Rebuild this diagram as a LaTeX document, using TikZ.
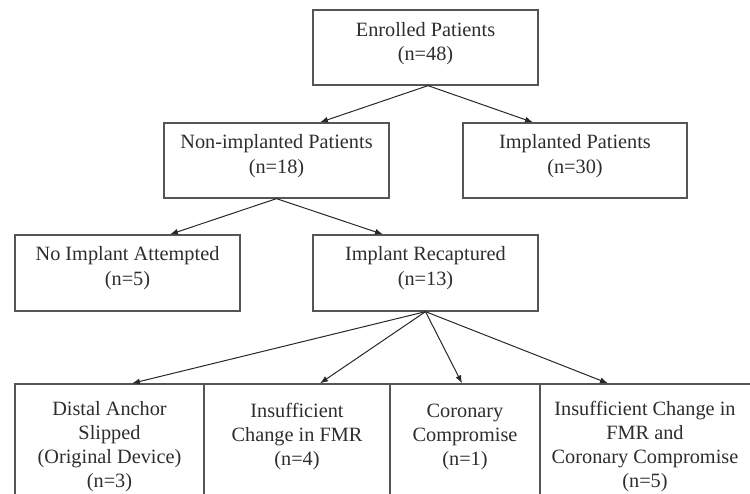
\documentclass[tikz,border=0pt]{standalone}
\usepackage{fontspec}
\setmainfont{Liberation Serif}
\usetikzlibrary{arrows.meta}
\definecolor{boxline}{RGB}{85,85,85}
\definecolor{txt}{RGB}{45,45,45}
\definecolor{arr}{RGB}{40,40,40}
\tikzset{
  x=1pt, y=-1pt,
  box/.style={draw=boxline, line width=1.3pt, rectangle, inner sep=0pt},
  txtnode/.style={inner sep=0pt, align=center, text=txt, font=\fontsize{20.3}{24.6}\selectfont},
  btxt/.style={txtnode, font=\fontsize{20.3}{24}\selectfont},
  conn/.style={draw=arr, line width=1pt, -{Latex[length=8pt,width=6pt]}}
}
\begin{document}
\begin{tikzpicture}
\useasboundingbox (0,0) rectangle (750,494);
\clip (0,0) rectangle (750,494);
% boxes
\node[box, minimum width=225pt, minimum height=75pt] (enr) at (425.5,47.5) {};
\node[box, minimum width=225pt, minimum height=75pt] (non) at (276.5,160.5) {};
\node[box, minimum width=224pt, minimum height=75pt] (imp) at (575,160.5) {};
\node[box, minimum width=225pt, minimum height=76pt] (noi) at (127.5,273) {};
\node[box, minimum width=225pt, minimum height=76pt] (rec) at (425.5,273) {};
\node[box, minimum width=189pt, minimum height=130pt] (b1) at (109.5,449) {};
\node[box, minimum width=186pt, minimum height=130pt] (b2) at (297,449) {};
\node[box, minimum width=150pt, minimum height=130pt] (b3) at (465,449) {};
\node[box, minimum width=220pt, minimum height=130pt] (b4) at (650,449) {};
% texts
\node[txtnode] (tenr) at (425.5,43.5) {Enrolled Patients\\(n=48)};
\node[txtnode] (tnon) at (276.5,156) {Non-implanted Patients\\(n=18)};
\node[txtnode] (timp) at (575,156) {Implanted Patients\\(n=30)};
\node[txtnode] (tnoi) at (127.5,268) {No Implant Attempted\\(n=5)};
\node[txtnode] (trec) at (425.5,268) {Implant Recaptured\\(n=13)};
\node[btxt] (tb1) at (109.5,447) {Distal Anchor\\Slipped\\(Original Device)\\(n=3)};
\node[btxt] (tb2) at (297,436.5) {Insufficient\\Change in FMR\\(n=4)};
\node[btxt] (tb3) at (465,436.5) {Coronary\\Compromise\\(n=1)};
\node[btxt] (tb4) at (645,447) {Insufficient Change in\\FMR and\\Coronary Compromise\\(n=5)};
% connectors
\draw[conn] ([xshift=2.5pt]enr.south) -- ([xshift=43.5pt]non.north);
\draw[conn] ([xshift=2.5pt]enr.south) -- ([xshift=-42pt]imp.north);
\draw[conn] (non.south) -- ([xshift=42.5pt]noi.north);
\draw[conn] (non.south) -- ([xshift=-42.5pt]rec.north);
\draw[conn] (rec.south) -- ([xshift=22.5pt]b1.north);
\draw[conn] (rec.south) -- ([xshift=23pt]b2.north);
\draw[conn] (rec.south) -- ([xshift=-3pt]b3.north);
\draw[conn] (rec.south) -- ([xshift=-42pt]b4.north);
\end{tikzpicture}
\end{document}
